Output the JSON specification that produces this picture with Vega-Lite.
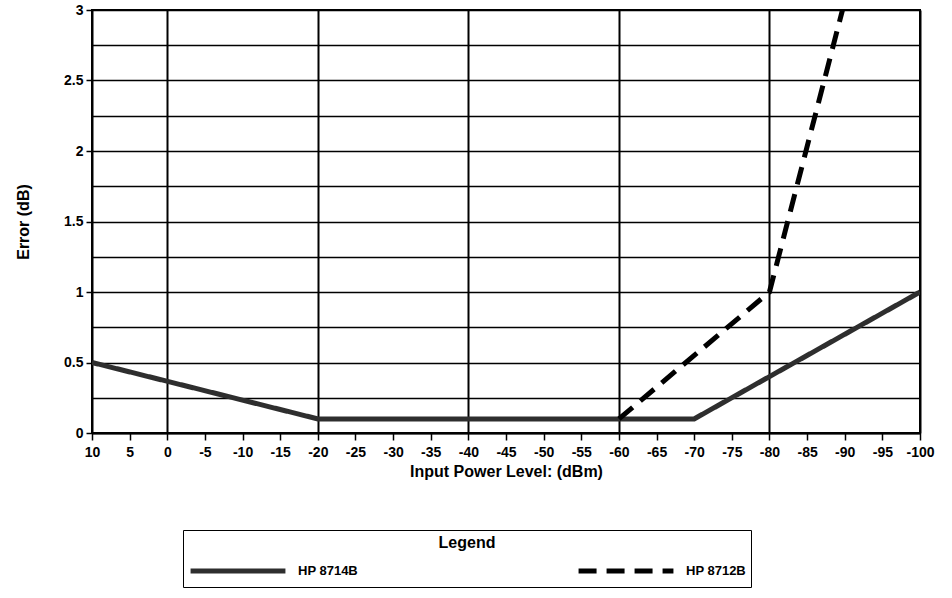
{
  "$schema": "https://vega.github.io/schema/vega-lite/v6.json",
  "autosize": {"type": "none"},
  "width": 828,
  "height": 423,
  "padding": {"left": 92, "top": 10, "right": 32, "bottom": 165},
  "background": "white",
  "config": {
    "font": "Liberation Sans",
    "view": {"stroke": "black", "strokeWidth": 2}
  },
  "data": {
    "values": [
      {"power": 10, "error": 0.5, "series": "HP 8714B"},
      {"power": -20, "error": 0.1, "series": "HP 8714B"},
      {"power": -70, "error": 0.1, "series": "HP 8714B"},
      {"power": -100, "error": 1.0, "series": "HP 8714B"},
      {"power": -60, "error": 0.1, "series": "HP 8712B"},
      {"power": -80, "error": 1.0, "series": "HP 8712B"},
      {"power": -89.7, "error": 3.0, "series": "HP 8712B"}
    ]
  },
  "mark": {"type": "line", "strokeWidth": 5, "clip": true},
  "encoding": {
    "x": {
      "field": "power",
      "type": "quantitative",
      "scale": {"domain": [-100, 10], "reverse": true, "nice": false, "zero": false},
      "axis": {
        "title": "Input Power Level: (dBm)",
        "values": [10, 5, 0, -5, -10, -15, -20, -25, -30, -35, -40, -45, -50, -55, -60, -65, -70, -75, -80, -85, -90, -95, -100],
        "labelExpr": "'' + datum.value",
        "labelFont": "Liberation Sans",
        "labelFontWeight": "bold",
        "labelFontSize": 14,
        "labelColor": "black",
        "labelPadding": 5,
        "labelOverlap": false,
        "labelFlush": false,
        "titleFont": "Liberation Sans",
        "titleFontWeight": "bold",
        "titleFontSize": 16,
        "titleColor": "black",
        "titlePadding": 4,
        "tickColor": "black",
        "tickWidth": 1.5,
        "tickSize": 7,
        "domainColor": "black",
        "domainWidth": 2,
        "grid": true,
        "gridColor": "black",
        "gridWidth": 2,
        "gridOpacity": {"condition": {"test": "datum.value % 20 === 0", "value": 1}, "value": 0}
      }
    },
    "y": {
      "field": "error",
      "type": "quantitative",
      "scale": {"domain": [0, 3], "nice": false},
      "axis": {
        "title": "Error (dB)",
        "values": [0, 0.25, 0.5, 0.75, 1, 1.25, 1.5, 1.75, 2, 2.25, 2.5, 2.75, 3],
        "labelExpr": "datum.value % 0.5 === 0 ? format(datum.value, '~g') : ''",
        "labelFont": "Liberation Sans",
        "labelFontWeight": "bold",
        "labelFontSize": 14,
        "labelColor": "black",
        "labelPadding": 3,
        "titleFont": "Liberation Sans",
        "titleFontWeight": "bold",
        "titleFontSize": 16,
        "titleColor": "black",
        "titlePadding": 32,
        "tickColor": "black",
        "tickWidth": 1.5,
        "tickSize": 6,
        "tickOpacity": {"condition": {"test": "datum.value % 0.5 === 0", "value": 1}, "value": 0},
        "domainColor": "black",
        "domainWidth": 2,
        "grid": true,
        "gridColor": "black",
        "gridWidth": 1.5
      }
    },
    "color": {
      "field": "series",
      "type": "nominal",
      "sort": ["HP 8714B", "HP 8712B"],
      "scale": {"domain": ["HP 8714B", "HP 8712B"], "range": ["#2e2e2e", "#000000"]},
      "legend": {
        "title": "Legend",
        "orient": "none",
        "legendX": 91,
        "legendY": 520,
        "direction": "horizontal",
        "columns": 2,
        "columnPadding": 218,
        "clipHeight": 22,
        "titleAnchor": "middle",
        "titleFont": "Liberation Sans",
        "titleFontWeight": "bold",
        "titleFontSize": 16,
        "titleColor": "black",
        "labelFont": "Liberation Sans",
        "labelFontWeight": "bold",
        "labelFontSize": 13,
        "labelColor": "black",
        "labelOffset": 10,
        "symbolType": "stroke",
        "symbolSize": 9000,
        "symbolStrokeWidth": 5,
        "strokeColor": "black",
        "padding": 5,
        "titlePadding": 9
      }
    },
    "strokeDash": {
      "field": "series",
      "type": "nominal",
      "sort": ["HP 8714B", "HP 8712B"],
      "scale": {"domain": ["HP 8714B", "HP 8712B"], "range": [[1, 0], [18, 10]]},
      "legend": {"title": "Legend"}
    }
  }
}
